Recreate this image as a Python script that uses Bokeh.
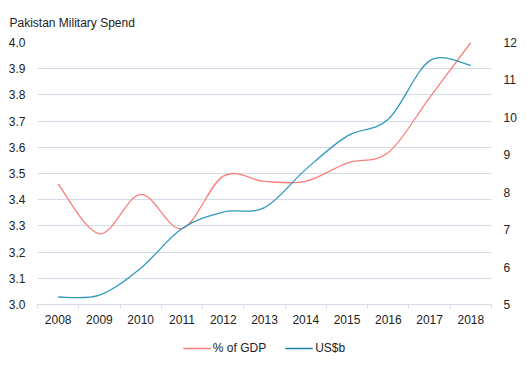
from bokeh.plotting import figure
from bokeh.layouts import column
from bokeh.models import (Range1d, LinearAxis, FixedTicker, Legend, LegendItem,
                          NumeralTickFormatter, ColumnDataSource)
from bokeh.embed import file_html
from bokeh.resources import INLINE

years = ["2008", "2009", "2010", "2011", "2012", "2013", "2014", "2015", "2016", "2017", "2018"]
pct_gdp = [3.46, 3.27, 3.42, 3.29, 3.49, 3.47, 3.47, 3.54, 3.58, 3.79, 4.00]
usd_b = [5.20, 5.25, 5.97, 7.03, 7.47, 7.59, 8.61, 9.50, 9.95, 11.51, 11.39]
left_ticks = [3.0, 3.1, 3.2, 3.3, 3.4, 3.5, 3.6, 3.7, 3.8, 3.9, 4.0]
right_ticks = [5, 6, 7, 8, 9, 10, 11, 12]
series_names = ["% of GDP", "US$b"]

RED = "#FA7F7B"
BLUE = "#2E98BC"
BLUE_LEG = "#1F7FA8"
GRID = "#D3DCE8"
FONT = "Liberation Sans"
TXT = "#222222"


def smooth_segments(ys):
    """Bezier segments (Catmull-Rom style control points) through the data."""
    n = len(ys)
    xs = list(range(n))
    d = dict(x0=[], y0=[], x1=[], y1=[], cx0=[], cy0=[], cx1=[], cy1=[])
    for i in range(n - 1):
        im1 = max(i - 1, 0)
        ip2 = min(i + 2, n - 1)
        d["x0"].append(xs[i]); d["y0"].append(ys[i])
        d["x1"].append(xs[i + 1]); d["y1"].append(ys[i + 1])
        d["cx0"].append(xs[i] + (xs[i + 1] - xs[im1]) / 6)
        d["cy0"].append(ys[i] + (ys[i + 1] - ys[im1]) / 6)
        d["cx1"].append(xs[i + 1] - (xs[ip2] - xs[i]) / 6)
        d["cy1"].append(ys[i + 1] - (ys[ip2] - ys[i]) / 6)
    return ColumnDataSource(d)


p = figure(width=519, height=335, output_backend="svg", toolbar_location=None,
           x_range=Range1d(-0.5, len(years) - 0.5),
           y_range=Range1d(left_ticks[0], left_ticks[-1]),
           min_border_left=37, min_border_right=28, min_border_top=42,
           min_border_bottom=31)
p.extra_y_ranges = {"usd": Range1d(right_ticks[0], right_ticks[-1])}
p.outline_line_color = None
p.background_fill_color = "white"

p.title.text = "Pakistan Military Spend"
p.title.text_font = FONT
p.title.text_font_size = "12px"
p.title.text_font_style = "normal"
p.title.text_color = TXT
p.title.align = "left"
p.title.offset = -28
p.title.standoff = 26

# x axis
xa = p.xaxis[0]
xa.ticker = FixedTicker(ticks=list(range(len(years))),
                        minor_ticks=[i - 0.5 for i in range(len(years) + 1)])
xa.major_label_overrides = {i: y for i, y in enumerate(years)}
xa.major_tick_line_color = None
xa.major_tick_out = 0
xa.major_tick_in = 0
xa.minor_tick_line_color = GRID
xa.minor_tick_out = 4
xa.minor_tick_in = 0
xa.axis_line_color = GRID
xa.major_label_text_font = FONT
xa.major_label_text_font_size = "12px"
xa.major_label_text_color = TXT
xa.major_label_standoff = 6
p.xgrid.visible = False

# left axis
ya = p.yaxis[0]
ya.ticker = FixedTicker(ticks=left_ticks)
ya.formatter = NumeralTickFormatter(format="0.0")

# right axis
ra = LinearAxis(y_range_name="usd", ticker=FixedTicker(ticks=right_ticks))
p.add_layout(ra, "right")
for ax in (ya, ra):
    ax.axis_line_color = None
    ax.major_tick_line_color = None
    ax.minor_tick_line_color = None
    ax.major_tick_out = 0
    ax.major_tick_in = 0
    ax.minor_tick_out = 0
    ax.minor_tick_in = 0
    ax.major_label_text_font = FONT
    ax.major_label_text_font_size = "12px"
    ax.major_label_text_color = TXT
    ax.major_label_standoff = 12
p.ygrid.ticker = FixedTicker(ticks=left_ticks[1:])
p.ygrid.grid_line_color = GRID

p.bezier(x0="x0", y0="y0", x1="x1", y1="y1", cx0="cx0", cy0="cy0",
         cx1="cx1", cy1="cy1", source=smooth_segments(pct_gdp),
         line_color=RED, line_width=1.3)
p.bezier(x0="x0", y0="y0", x1="x1", y1="y1", cx0="cx0", cy0="cy0",
         cx1="cx1", cy1="cy1", source=smooth_segments(usd_b),
         line_color=BLUE, line_width=1.3, y_range_name="usd")

# legend strip below the chart
pl = figure(width=519, height=26, output_backend="svg", toolbar_location=None,
            x_range=Range1d(0, 1), y_range=Range1d(0, 1),
            min_border_left=13, min_border_right=0, min_border_top=0,
            min_border_bottom=0)
pl.axis.visible = False
pl.grid.visible = False
pl.outline_line_color = None
lg_gdp = pl.line(x=[-1, -1], y=[-1, -1], line_color=RED, line_width=1.3)
lg_usd = pl.line(x=[-1, -1], y=[-1, -1], line_color=BLUE_LEG, line_width=1.3)
legend = Legend(items=[LegendItem(label=series_names[0], renderers=[lg_gdp]),
                       LegendItem(label=series_names[1], renderers=[lg_usd])],
                orientation="horizontal", location="center",
                border_line_color=None, background_fill_alpha=0,
                label_text_font=FONT, label_text_font_size="12px",
                label_text_color=TXT, glyph_width=28, glyph_height=12,
                label_standoff=2, spacing=19, padding=0, margin=0)
pl.add_layout(legend, "center")

layout = column(p, pl, spacing=0)
open("out.html", "w").write(file_html(layout, INLINE))
